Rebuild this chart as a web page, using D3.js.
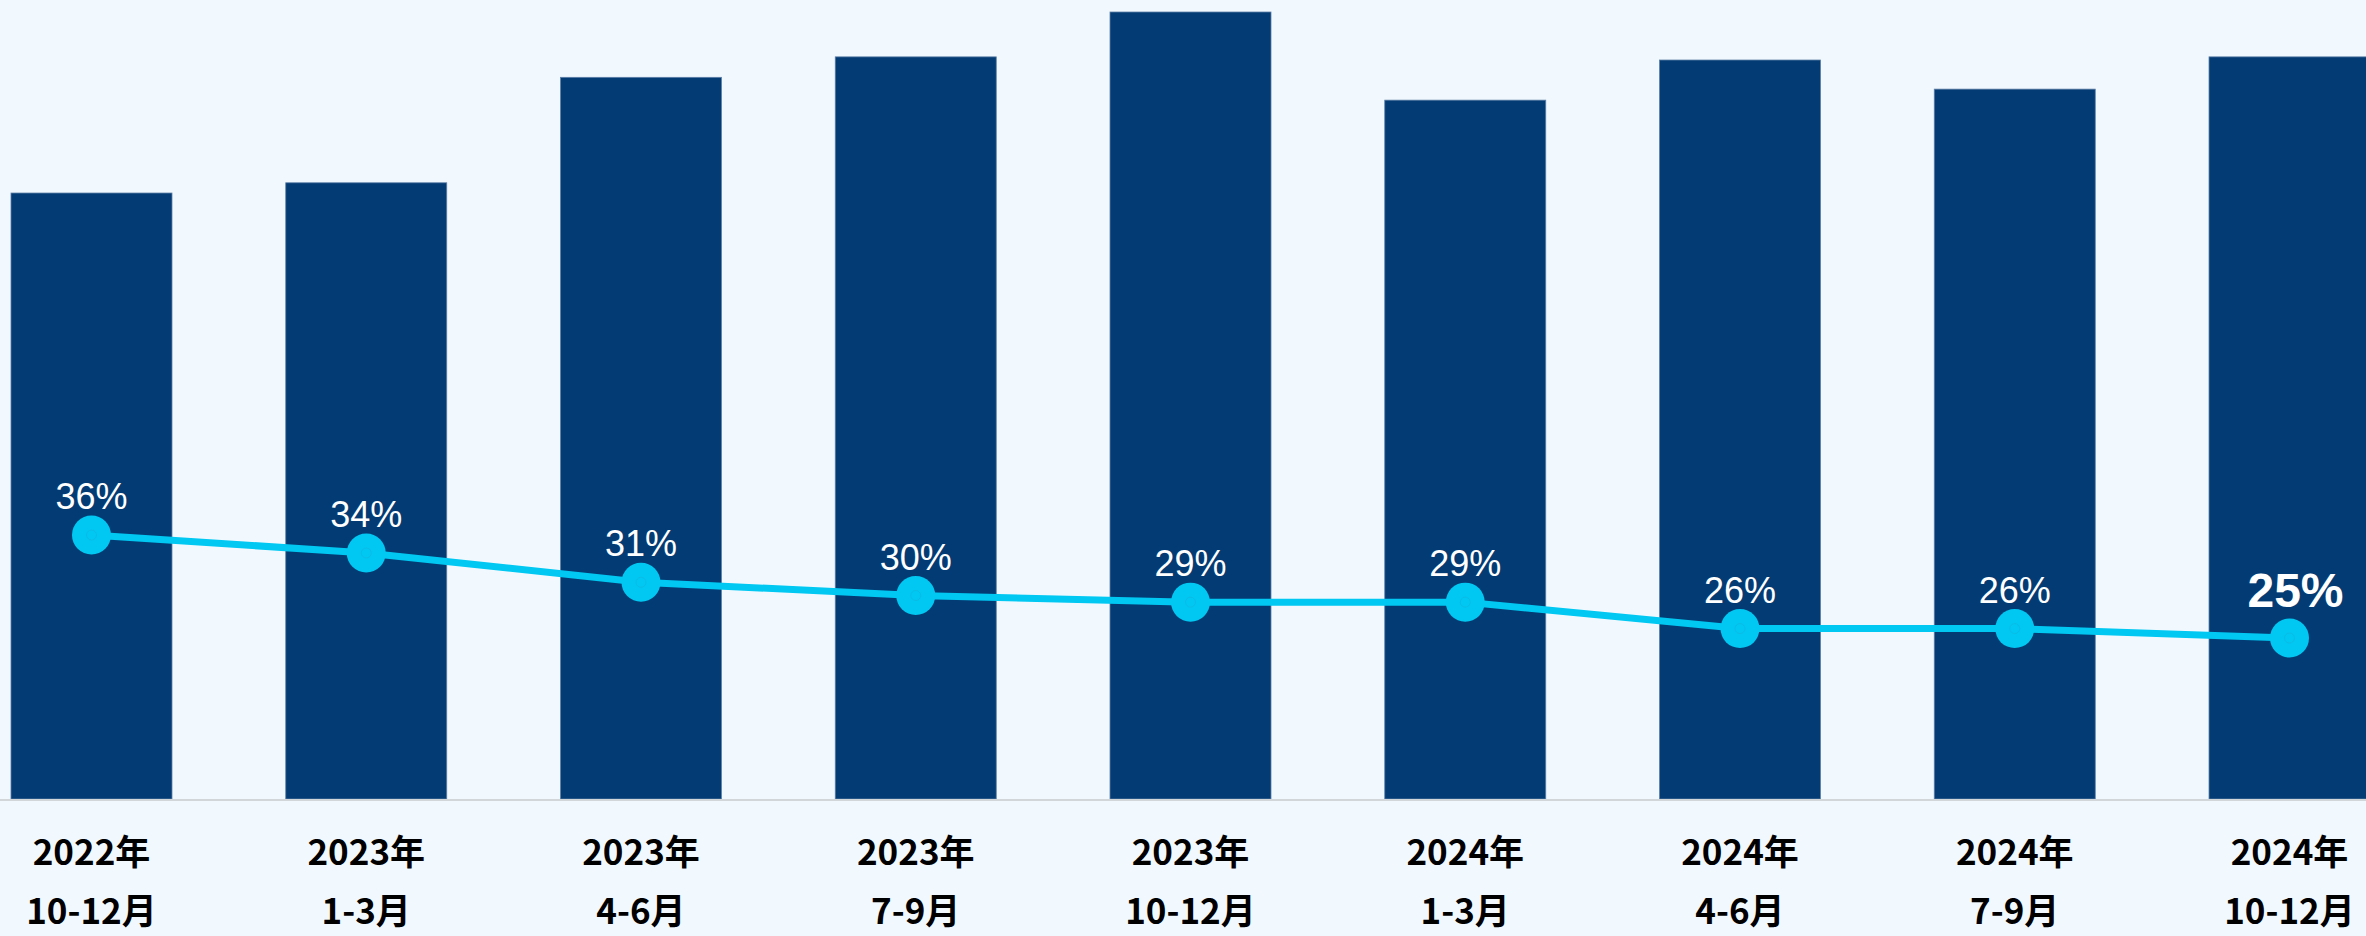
<!DOCTYPE html>
<html>
<head>
<meta charset="utf-8">
<script src="https://cdn.jsdelivr.net/npm/d3@7"></script>
<style>
  html, body { margin: 0; padding: 0; background: #f2f9fe; overflow: hidden; }
  svg { display: block; }
</style>
</head>
<body>
<div id="chart"></div>
<script>
// Quarter labels (two lines each)
const years = ['2022年', '2023年', '2023年', '2023年', '2023年', '2024年', '2024年', '2024年', '2024年'];
const months = ['10-12月', '1-3月', '4-6月', '7-9月', '10-12月', '1-3月', '4-6月', '7-9月', '10-12月'];
// Bar series (relative index)
const barValues = [77.0, 78.3, 91.7, 94.3, 100, 88.8, 93.9, 90.2, 94.3];
// Line series (%)
const rateValues = [36.0, 34.1, 31.0, 29.6, 28.9, 28.9, 26.1, 26.1, 25.1];

const W = 2366, H = 936;
const baseY = 799;

const svg = d3.select('#chart').append('svg')
  .attr('width', W)
  .attr('height', H);

svg.append('rect')
  .attr('width', W)
  .attr('height', H)
  .attr('fill', '#f2f9fe');

const keys = d3.range(years.length);

const x = d3.scaleBand()
  .domain(keys)
  .range([0, 2381])
  .paddingInner(0.414)
  .paddingOuter(0.04);

const y = d3.scaleLinear()
  .domain([0, d3.max(barValues)])
  .range([baseY, 12]);

// secondary axis for the rate line
const y2 = d3.scaleLinear()
  .domain([25, 36])
  .range([639, 535]);

const cx = i => x(i) + x.bandwidth() / 2;

// Bars
svg.append('g')
  .selectAll('rect')
  .data(barValues)
  .join('rect')
  .attr('x', (d, i) => x(i))
  .attr('y', d => y(d))
  .attr('width', x.bandwidth())
  .attr('height', d => baseY - y(d))
  .attr('fill', '#033b74')
  .attr('stroke', '#5e7fa8')
  .attr('stroke-width', 0.8);

// Baseline
svg.append('line')
  .attr('x1', 0)
  .attr('x2', W)
  .attr('y1', baseY + 1)
  .attr('y2', baseY + 1)
  .attr('stroke', '#d3d6d9')
  .attr('stroke-width', 2);

// X axis labels
const xAxis = svg.append('g')
  .attr('font-family', '"Noto Sans CJK JP", sans-serif')
  .attr('font-weight', 'bold')
  .attr('font-size', 35)
  .attr('fill', '#000')
  .attr('text-anchor', 'middle');

xAxis.selectAll('text.yr')
  .data(years)
  .join('text')
  .attr('class', 'yr')
  .attr('x', (d, i) => cx(i))
  .attr('y', 865)
  .text(d => d);

xAxis.selectAll('text.mo')
  .data(months)
  .join('text')
  .attr('class', 'mo')
  .attr('x', (d, i) => cx(i))
  .attr('y', 924)
  .text(d => d);

// Rate line
const line = d3.line()
  .x((d, i) => cx(i))
  .y(d => y2(d));

svg.append('path')
  .datum(rateValues)
  .attr('d', line)
  .attr('fill', 'none')
  .attr('stroke', '#00c8f2')
  .attr('stroke-width', 7)
  .attr('stroke-linejoin', 'round');

const pts = svg.append('g');
pts.selectAll('circle.pt')
  .data(rateValues)
  .join('circle')
  .attr('class', 'pt')
  .attr('cx', (d, i) => cx(i))
  .attr('cy', d => y2(d))
  .attr('r', 19.5)
  .attr('fill', '#00c8f2');

pts.selectAll('circle.dot')
  .data(rateValues)
  .join('circle')
  .attr('class', 'dot')
  .attr('cx', (d, i) => cx(i))
  .attr('cy', d => y2(d))
  .attr('r', 5)
  .attr('fill', 'none')
  .attr('stroke', '#12b4dc')
  .attr('stroke-width', 0.6);

// Rate labels
const last = rateValues.length - 1;
svg.append('g')
  .attr('font-family', '"Liberation Sans", Arial, sans-serif')
  .attr('fill', '#fff')
  .attr('text-anchor', 'middle')
  .selectAll('text')
  .data(rateValues)
  .join('text')
  .attr('x', (d, i) => cx(i) + (i === last ? 6 : 0))
  .attr('y', (d, i) => y2(d) - (i === last ? 31 : 26))
  .attr('font-size', (d, i) => i === last ? 48 : 36)
  .attr('font-weight', (d, i) => i === last ? 'bold' : 'normal')
  .text(d => Math.round(d) + '%');
</script>
</body>
</html>
